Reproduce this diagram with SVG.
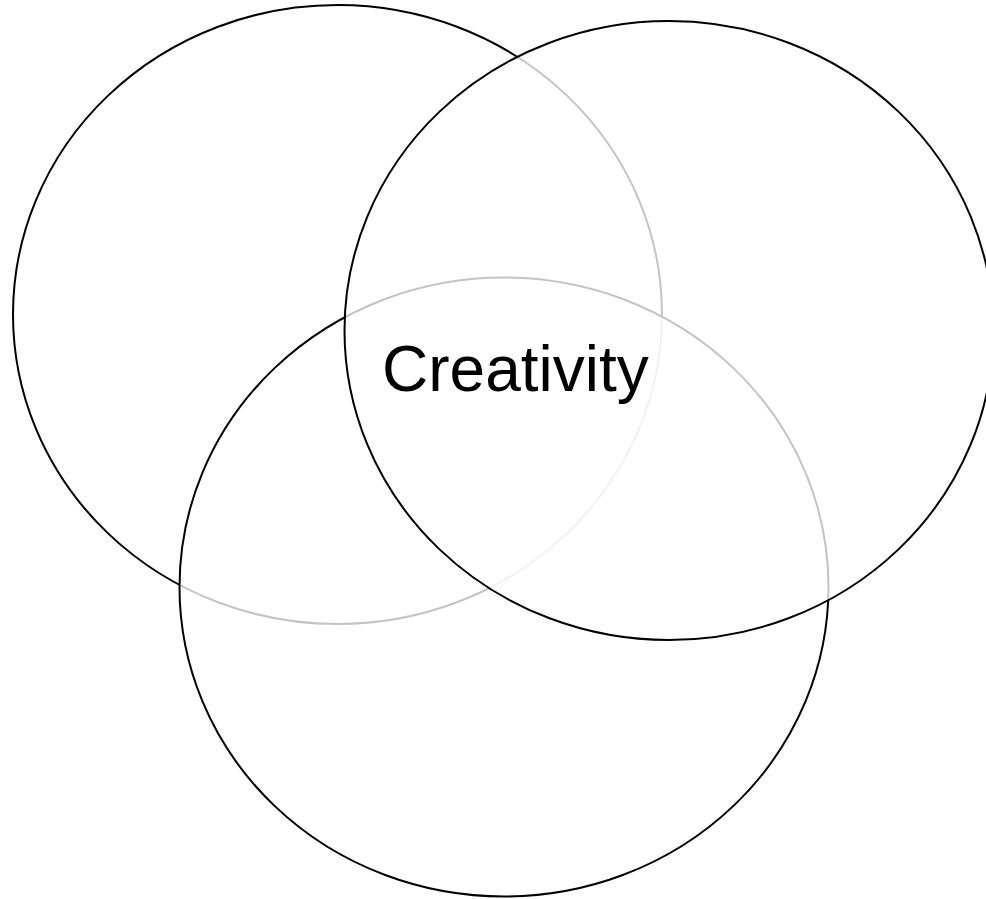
<svg xmlns="http://www.w3.org/2000/svg" width="986" height="899" viewBox="0 0 986 899">
<style>
.c{fill:#ffffff;fill-opacity:0.77;stroke:#000000;stroke-width:2}
.t{font-family:"Liberation Sans",Arial,sans-serif;font-size:64px;fill:#000000}
</style>
<rect width="986" height="899" fill="#ffffff"/>
<g id="circle-left"><ellipse class="c" cx="337.5" cy="314.5" rx="324.5" ry="309.5"/></g>
<g id="circle-bottom"><ellipse class="c" cx="504" cy="587" rx="324.5" ry="309.5"/></g>
<g id="circle-right"><ellipse class="c" cx="669" cy="330.5" rx="324.5" ry="309.5"/></g>
<g id="label"><text class="t" x="382" y="391">Creativity</text></g>
<g id="connectors"></g>
</svg>
